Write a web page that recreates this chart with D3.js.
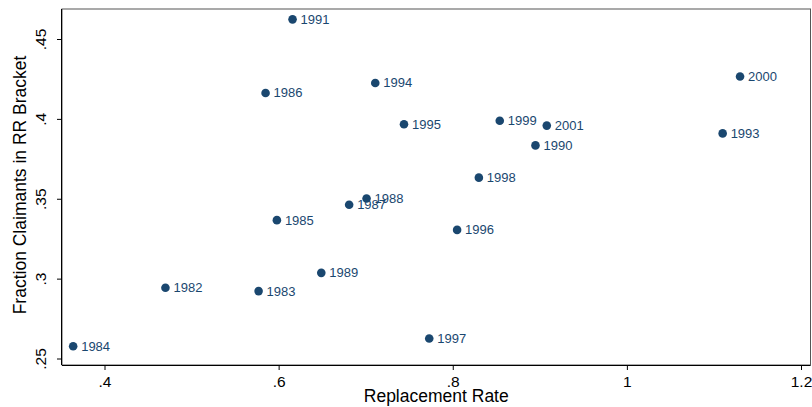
<!DOCTYPE html>
<html>
<head>
<meta charset="utf-8">
<script src="https://cdn.jsdelivr.net/npm/d3@7"></script>
<style>
  body { margin: 0; background: #fff; }
  text { font-family: "Liberation Sans", Arial, sans-serif; }
</style>
</head>
<body>
<svg id="chart" width="812" height="407"></svg>
<script>
// data
var years = [1982, 1983, 1984, 1985, 1986, 1987, 1988, 1989, 1990, 1991,
             1993, 1994, 1995, 1996, 1997, 1998, 1999, 2000, 2001];
var replRate = [0.470, 0.577, 0.364, 0.598, 0.585, 0.681, 0.701, 0.649, 0.895, 0.616,
                1.110, 0.711, 0.744, 0.805, 0.773, 0.830, 0.854, 1.130, 0.908];
var fraction = [0.2943, 0.2922, 0.2577, 0.3366, 0.4162, 0.3462, 0.3502, 0.3036, 0.3834, 0.4623,
                0.3909, 0.4225, 0.3966, 0.3305, 0.2625, 0.3632, 0.3988, 0.4265, 0.3958];
var xTicks = [0.4, 0.6, 0.8, 1, 1.2];
var yTicks = [0.25, 0.3, 0.35, 0.4, 0.45];

var svg = d3.select('#chart');
var plot = {left: 62, right: 810.5, top: 9, bottom: 365};
var navy = '#1a476f';

var x = d3.scaleLinear().domain([0.4, 1.2]).range([104.5, 801]);
var y = d3.scaleLinear().domain([0.25, 0.45]).range([358.5, 39]);

function fmt(v){
	// stata style: .4 instead of 0.4
	var s = String(+v.toFixed(2));
	return s.replace(/^0\./, '.');
}

// plot region outline
svg.append('rect')
	.attr('x', plot.left).attr('y', plot.top)
	.attr('width', plot.right - plot.left)
	.attr('height', plot.bottom - plot.top)
	.attr('fill', 'none')
	.attr('stroke', '#555')
	.attr('stroke-width', 1);

// x axis
var xAxis = svg.append('g')
	.attr('transform', 'translate(0,' + plot.bottom + ')')
	.call(d3.axisBottom(x).tickValues(xTicks).tickFormat(fmt).tickSize(5));
xAxis.select('.domain').attr('d', 'M' + plot.left + ',0.5H' + plot.right).attr('stroke', '#000');
xAxis.selectAll('.tick text')
	.attr('font-size', 15.5).attr('fill', '#000')
	.style('font-family', '"Liberation Sans", Arial, sans-serif')
	.attr('dy', 0).attr('y', 22);

// y axis
var yAxis = svg.append('g')
	.attr('transform', 'translate(' + plot.left + ',0)')
	.call(d3.axisLeft(y).tickValues(yTicks).tickFormat(fmt).tickSize(5));
yAxis.select('.domain').attr('d', 'M-0.5,' + plot.top + 'V' + plot.bottom).attr('stroke', '#000');
yAxis.selectAll('.tick text')
	.attr('font-size', 15.5).attr('fill', '#000')
	.style('font-family', '"Liberation Sans", Arial, sans-serif')
	.attr('text-anchor', 'middle')
	.attr('x', 0).attr('dy', 0)
	.attr('transform', 'translate(-16,0) rotate(-90)');

// axis titles
svg.append('text')
	.attr('x', (plot.left + plot.right) / 2)
	.attr('y', 402)
	.attr('text-anchor', 'middle')
	.attr('font-size', 17.5)
	.text('Replacement Rate');

svg.append('text')
	.attr('transform', 'translate(26,' + ((plot.top + plot.bottom) / 2 - 2) + ') rotate(-90)')
	.attr('text-anchor', 'middle')
	.attr('font-size', 17.5)
	.text('Fraction Claimants in RR Bracket');

// points + labels
var pts = years.map(function(yr, i){ return {year: yr, rr: replRate[i], fr: fraction[i]}; });

var g = svg.append('g');
g.selectAll('circle')
	.data(pts)
	.enter().append('circle')
	.attr('cx', function(d){ return x(d.rr); })
	.attr('cy', function(d){ return y(d.fr); })
	.attr('r', 4.3)
	.attr('fill', navy);

g.selectAll('text.lbl')
	.data(pts)
	.enter().append('text')
	.attr('class', 'lbl')
	.attr('x', function(d){ return x(d.rr) + 8; })
	.attr('y', function(d){ return y(d.fr) + 4.5; })
	.attr('font-size', 13)
	.attr('fill', navy)
	.text(function(d){ return d.year; });
</script>
</body>
</html>
